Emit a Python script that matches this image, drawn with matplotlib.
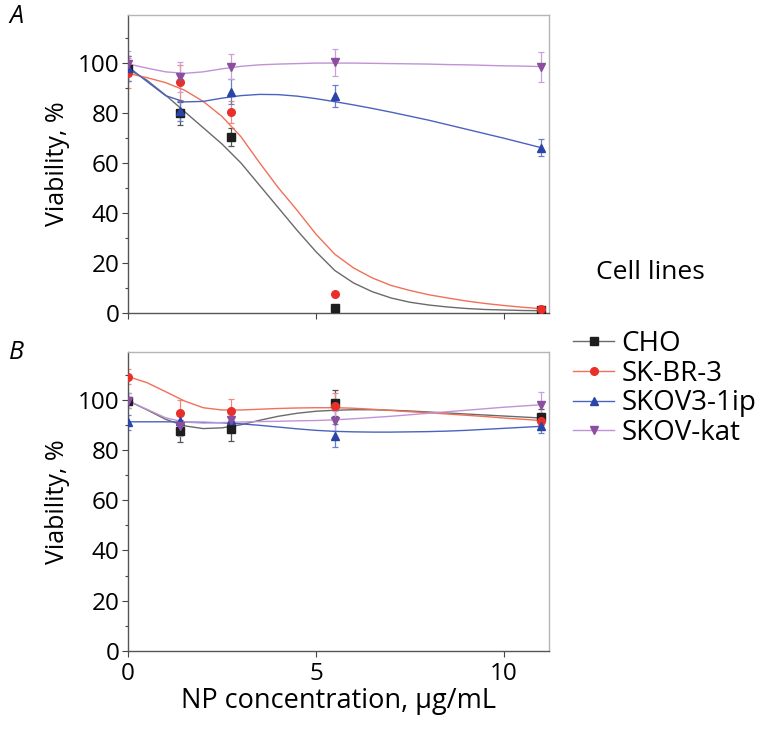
import matplotlib
matplotlib.use("Agg")
import matplotlib.pyplot as plt
from matplotlib.lines import Line2D
from matplotlib.ticker import MultipleLocator

plt.rcParams['font.family'] = ['Open Sans', 'DejaVu Sans']

# measured concentrations, ug/mL
conc = [0, 1.375, 2.75, 5.5, 11]
names = ['CHO', 'SK-BR-3', 'SKOV3-1ip', 'SKOV-kat']

# panel A: mean viability, %
a_cho = [97.5, 79.7, 70.2, 1.8, 1.3]
a_skbr = [95.7, 92.1, 80.3, 7.5, 1.5]
a_skov3 = [97.7, 80.7, 88.4, 86.7, 66.0]
a_kat = [99.5, 94.1, 98.4, 100.1, 98.4]
a_err = [[5, 4.5, 3.6, 0, 0],
         [6, 7, 4.5, 0, 0],
         [5, 4, 5, 4.5, 3.5],
         [5, 6, 5, 5.5, 6]]

# panel B
b_cho = [99.6, 87.5, 88.5, 98.7, 93.1]
b_skbr = [109.2, 94.7, 95.4, 97.6, 91.7]
b_skov3 = [91.1, 91.4, 91.8, 85.7, 89.6]
b_kat = [99.6, 89.5, 92.1, 91.4, 98.0]
b_err = [[3, 4.5, 5, 5, 3],
         [3, 5, 5, 5, 3],
         [3, 4, 3, 4.5, 3],
         [3, 4, 4, 4, 5]]

# fitted curves
fit_x = [0, 0.5, 1, 1.5, 2, 2.5, 3, 3.5, 4, 4.5, 5, 5.5, 6, 6.5, 7, 7.5,
         8, 8.5, 9, 9.5, 10, 10.5, 11]
fa_cho = [97.5, 93, 87, 80.5, 74, 67.5, 60, 51, 42, 33, 24.5, 17, 12, 8.5,
          6, 4.3, 3.2, 2.4, 1.8, 1.4, 1.2, 1.0, 0.9]
fa_skbr = [95.7, 94, 92, 89, 84.5, 78.5, 70.5, 60, 50, 41, 31.5, 23.5, 18,
           14, 11, 9, 7.3, 6, 4.8, 3.8, 3, 2.3, 1.7]
fa_skov3 = [98.4, 92.5, 86.8, 84.3, 84.5, 85.8, 86.8, 87.3, 87.2, 86.6, 85.6,
            84.4, 83.1, 81.7, 80.2, 78.6, 77, 75.2, 73.4, 71.6, 69.8, 67.9, 66]
fa_kat = [99.5, 97.8, 96.3, 95.7, 96.3, 97.5, 98.5, 99.1, 99.4, 99.6, 99.8,
          99.8, 99.8, 99.7, 99.6, 99.5, 99.4, 99.2, 99.1, 98.9, 98.7, 98.6, 98.4]
fb_cho = [99.6, 96, 92.2, 89.6, 88.5, 88.8, 90, 91.8, 93.4, 94.6, 95.4, 95.8,
          96, 96, 95.8, 95.5, 95.1, 94.7, 94.3, 93.9, 93.5, 93.1, 92.7]
fb_skbr = [109.2, 106.8, 103.2, 99.5, 96.8, 95.9, 95.9, 96.2, 96.5, 96.7,
           96.8, 96.8, 96.6, 96.2, 95.7, 95.2, 94.8, 94.3, 93.8, 93.3, 92.7,
           92.2, 91.7]
fb_skov3 = [91.2, 91.2, 91.2, 91.1, 91.0, 90.8, 90.4, 89.8, 89.1, 88.4, 87.8,
            87.4, 87.2, 87.1, 87.1, 87.2, 87.3, 87.5, 87.8, 88.2, 88.6, 89.0,
            89.4]
fb_kat = [99.6, 96.2, 92.8, 91.1, 90.7, 90.9, 91.1, 91.3, 91.4, 91.6, 91.7,
          92, 92.4, 92.9, 93.4, 94, 94.6, 95.2, 95.8, 96.4, 97, 97.5, 98]

mk_col = ['#1e1e1e', '#e8302a', '#2a44a8', '#8a4f9e']
ln_col = ['#6a6a6a', '#f07058', '#4a62c0', '#c093d6']
er_col = ['#555555', '#f08a80', '#6a7fc8', '#c9a2d8']
markers = ['s', 'o', '^', 'v']

fig = plt.figure(figsize=(7.72, 7.32), dpi=100)
axA = fig.add_axes([0.1658, 0.5724, 0.5453, 0.4071])
axB = fig.add_axes([0.1658, 0.1107, 0.5453, 0.4085])

panels = [
    (axA, [a_cho, a_skbr, a_skov3, a_kat], a_err,
     [fa_cho, fa_skbr, fa_skov3, fa_kat]),
    (axB, [b_cho, b_skbr, b_skov3, b_kat], b_err,
     [fb_cho, fb_skbr, fb_skov3, fb_kat]),
]

for ax, means, errs, fits in panels:
    for i in range(4):
        ax.errorbar(conc, means[i], yerr=errs[i], fmt='none', ecolor=er_col[i],
                    elinewidth=0.9, capsize=2.5, capthick=0.9, zorder=2)
        ax.plot(fit_x, fits[i], color=ln_col[i], lw=1.0, zorder=3)
        ax.plot(conc, means[i], ls='none', marker=markers[i], ms=5.5,
                color=mk_col[i], zorder=4)
    ax.set_xlim(0, 11.2)
    ax.set_ylim(0, 119)
    ax.set_xticks([0, 5, 10])
    ax.set_yticks([0, 20, 40, 60, 80, 100])
    ax.yaxis.set_minor_locator(MultipleLocator(10))
    ax.tick_params(axis='both', which='major', direction='out', length=4,
                   width=0.8, color='#444444', labelsize=17.5, pad=2)
    ax.tick_params(axis='x', which='major', pad=4)
    ax.tick_params(axis='y', which='minor', direction='out', length=2.5,
                   width=0.8, color='#444444')
    for s in ['left', 'bottom']:
        ax.spines[s].set_color('#555555')
        ax.spines[s].set_linewidth(1.0)
    for s in ['top', 'right']:
        ax.spines[s].set_color('#b5b5b5')
        ax.spines[s].set_linewidth(1.0)
    ax.set_ylabel('Viability, %', fontsize=18, labelpad=6)

axA.tick_params(axis='x', labelbottom=False)
axB.set_xlabel('NP concentration, μg/mL', fontsize=19.5, labelpad=1)

fig.text(0.021, 0.978, 'A', fontsize=18, style='italic', va='center', ha='center')
fig.text(0.021, 0.519, 'B', fontsize=18, style='italic', va='center', ha='center')

fig.text(0.843, 0.628, 'Cell lines', fontsize=19, ha='center', va='center')
handles = [Line2D([], [], color=ln_col[i], marker=markers[i], ms=5.5,
                  mfc=mk_col[i], mec=mk_col[i], lw=1.0) for i in range(4)]
fig.legend(handles, names, loc='upper left', bbox_to_anchor=(0.742, 0.549),
           frameon=False, fontsize=20, handlelength=1.5, handletextpad=0.25,
           labelspacing=0.06, borderaxespad=0, borderpad=0)

fig.savefig('out.png', dpi=100)
